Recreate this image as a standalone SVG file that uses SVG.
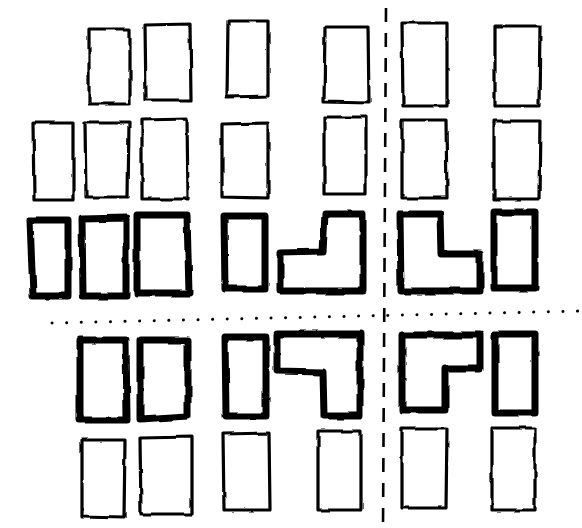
<svg xmlns="http://www.w3.org/2000/svg" width="582" height="528" viewBox="0 0 582 528">
<style>
.thin{fill:none;stroke:#000;stroke-width:3.2;stroke-linejoin:round}
.thick{fill:none;stroke:#000;stroke-width:7;stroke-linejoin:round}
.dash{fill:none;stroke:#000;stroke-width:2.6;stroke-dasharray:14 11}
.dot{fill:none;stroke:#000;stroke-width:3;stroke-linecap:round;stroke-dasharray:0.1 14.5}
</style>
<defs>
<filter id="wob" x="-5%" y="-5%" width="110%" height="110%">
<feTurbulence type="fractalNoise" baseFrequency="0.045" numOctaves="2" seed="4" result="n"/>
<feDisplacementMap in="SourceGraphic" in2="n" scale="3.5" xChannelSelector="R" yChannelSelector="G"/>
</filter>
</defs>
<rect width="582" height="528" fill="#fff"/>
<g id="guides">
<path class="dash" d="M386 8 L383 528"/>
<path class="dot" d="M52 323 L582 311"/>
</g>
<g filter="url(#wob)">
<g id="r1a"><path class="thin" d="M89 29 L130 29 L130 104 L89 104 Z"/></g>
<g id="r1b"><path class="thin" d="M145 25 L190 24 L191 100 L146 100 Z"/></g>
<g id="r1c"><path class="thin" d="M228 21 L268 21 L268 96 L227 97 Z"/></g>
<g id="r1d"><path class="thin" d="M325 27 L368 27 L369 103 L324 102 Z"/></g>
<g id="r1e"><path class="thin" d="M402 23 L447 23 L447 106 L403 106 Z"/></g>
<g id="r1f"><path class="thin" d="M495 26 L540 26 L539 106 L495 106 Z"/></g>

<g id="r2a"><path class="thin" d="M33 123 L73 123 L73 200 L34 200 Z"/></g>
<g id="r2b"><path class="thin" d="M85 122 L129 122 L128 197 L86 197 Z"/></g>
<g id="r2c"><path class="thin" d="M142 120 L187 119 L188 199 L142 199 Z"/></g>
<g id="r2d"><path class="thin" d="M222 124 L268 123 L268 198 L222 197 Z"/></g>
<g id="r2e"><path class="thin" d="M324 117 L366 117 L366 194 L324 194 Z"/></g>
<g id="r2f"><path class="thin" d="M402 120 L446 120 L447 198 L402 198 Z"/></g>
<g id="r2g"><path class="thin" d="M494 121 L540 121 L539 199 L494 199 Z"/></g>

<g id="t1a"><path class="thick" d="M30 220 L68 220 L68 296 L33 296 Z"/></g>
<g id="t1b"><path class="thick" d="M82 219 L126 218 L126 296 L83 296 Z"/></g>
<g id="t1c"><path class="thick" d="M137 215 L187 215 L189 293 L137 293 Z"/></g>
<g id="t1d"><path class="thick" d="M224 216 L265 216 L265 289 L225 289 Z"/></g>
<g id="t1e"><path class="thick" d="M325 214 L363 214 L363 291 L280 291 L280 253 L323 252 Z"/></g>
<g id="t1f"><path class="thick" d="M400 214 L440 214 L441 254 L480 254 L480 291 L401 291 Z"/></g>
<g id="t1g"><path class="thick" d="M494 212 L535 212 L535 288 L494 288 Z"/></g>

<g id="t2a"><path class="thick" d="M80 340 L126 340 L127 420 L80 420 Z"/></g>
<g id="t2b"><path class="thick" d="M140 340 L188 340 L188 416 L140 419 Z"/></g>
<g id="t2c"><path class="thick" d="M225 337 L266 337 L266 416 L226 416 Z"/></g>
<g id="t2d"><path class="thick" d="M277 334 L360 334 L360 416 L324 416 L323 372 L277 371 Z"/></g>
<g id="t2e"><path class="thick" d="M402 335 L480 335 L480 369 L445 369 L445 410 L402 410 Z"/></g>
<g id="t2f"><path class="thick" d="M495 334 L535 334 L535 413 L495 413 Z"/></g>

<g id="r5a"><path class="thin" d="M82 440 L125 440 L124 518 L82 517 Z"/></g>
<g id="r5b"><path class="thin" d="M140 438 L192 437 L192 514 L141 514 Z"/></g>
<g id="r5c"><path class="thin" d="M223 434 L269 433 L270 510 L224 510 Z"/></g>
<g id="r5d"><path class="thin" d="M318 431 L361 431 L361 510 L318 510 Z"/></g>
<g id="r5e"><path class="thin" d="M402 429 L447 429 L446 508 L402 508 Z"/></g>
<g id="r5f"><path class="thin" d="M492 428 L535 428 L535 510 L492 510 Z"/></g>
</g>
</svg>
